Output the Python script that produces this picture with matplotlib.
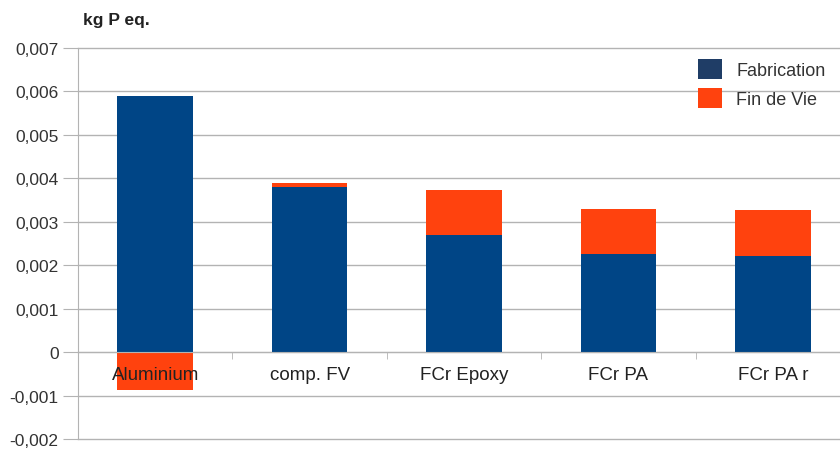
import matplotlib.pyplot as plt
from matplotlib.ticker import FuncFormatter, MultipleLocator
from matplotlib.patches import Patch

plt.rcParams['font.family'] = ['Liberation Sans', 'DejaVu Sans']

categories = ['Aluminium', 'comp. FV', 'FCr Epoxy', 'FCr PA', 'FCr PA r']
fabrication = [0.00589, 0.00380, 0.00269, 0.00225, 0.00221]
fin_de_vie = [-0.00087, 0.00009, 0.00103, 0.00104, 0.00105]

blue = '#004586'
orange = '#ff420e'
grid = '#b3b3b3'

fig = plt.figure(figsize=(8.4, 4.52), dpi=100)
ax = fig.add_axes([78 / 840, 12 / 452, 772 / 840, 391 / 452])

x = list(range(len(categories)))
ax.bar(x, fabrication, width=0.49, color=blue, zorder=1)
# positive end-of-life stacks on top, negative ones go below zero
bottoms = [f if v >= 0 else 0 for f, v in zip(fabrication, fin_de_vie)]
ax.bar(x, fin_de_vie, width=0.49, bottom=bottoms, color=orange, zorder=1)

ax.set_xlim(-0.5, 4.5)
ax.set_ylim(-0.002, 0.007)
ax.yaxis.set_major_locator(MultipleLocator(0.001))
ax.yaxis.set_major_formatter(FuncFormatter(
    lambda v, p: '0' if abs(v) < 1e-12 else f'{v:.3f}'.replace('.', ',')))
ax.grid(axis='y', color=grid, linewidth=1)
ax.set_axisbelow(True)
for line in ax.get_ygridlines():
    line.set_clip_on(False)

for s in ['top', 'right']:
    ax.spines[s].set_visible(False)
ax.spines['left'].set_color(grid)
ax.spines['bottom'].set_position(('data', 0))
ax.spines['bottom'].set_color(grid)

ax.tick_params(axis='y', length=11, color=grid, labelsize=12.5, labelcolor='#333333', pad=3)
ax.set_xticks(x)
ax.set_xticklabels(categories)
ax.set_xticks([i + 0.5 for i in x[:-1]], minor=True)
ax.tick_params(axis='x', which='major', length=0, pad=10, labelsize=13.5, labelcolor='#222222')
ax.tick_params(axis='x', which='minor', length=5, color=grid)
ax.xaxis.set_zorder(3)

fig.text(83 / 840, 1 - 20 / 452, 'kg P eq.', fontsize=12.5, fontweight='bold',
         va='center', ha='left', color='#222222')

handles = [Patch(facecolor='#1f3d66', label='Fabrication'),
           Patch(facecolor=orange, label='Fin de Vie')]
fig.legend(handles=handles, loc='upper left', bbox_to_anchor=(682 / 840, 1 - 44 / 452),
           frameon=False, fontsize=13, handlelength=1.3, handleheight=1.3,
           labelspacing=0.5, handletextpad=0.8, labelcolor='#333333')

fig.savefig('out.png', dpi=100)
